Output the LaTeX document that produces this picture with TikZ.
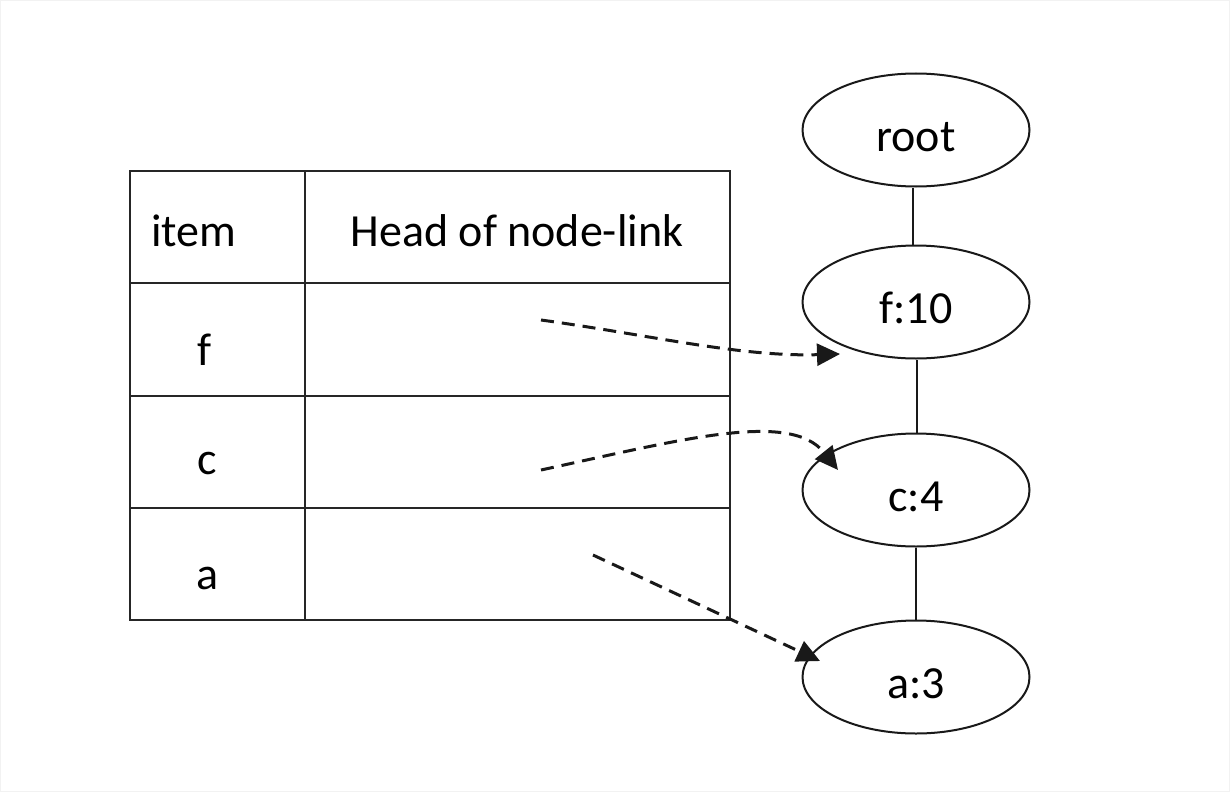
\documentclass[tikz,border=0pt]{standalone}
\usepackage{fontspec}
\setmainfont{Carlito}
\usetikzlibrary{shapes.geometric,arrows.meta}
\begin{document}
\begin{tikzpicture}[x=0.5pt,y=-0.5pt,
  tbl/.style={line width=1.4pt,draw=black!85},
  ell/.style={ellipse,draw=black!90,line width=1pt,minimum width=113.5pt,minimum height=56.5pt,inner sep=0pt,text height=21pt,text depth=0pt,font=\fontsize{23}{27}\selectfont},
  lbl/.style={inner sep=0pt,font=\fontsize{23}{27}\selectfont},
  link/.style={line width=0.85pt,black!90},
  ptr/.style={line width=1.5pt,black!90,dash pattern=on 6.5pt off 4pt,-{Triangle[length=11.5pt,width=11pt]}}]
\useasboundingbox (0,0) rectangle (1230,792);
\draw[black!5,line width=0.5pt] (0.5,0.5) rectangle (1229.5,791.5);
% table
\draw[tbl] (130,171) rectangle (730,620);
\draw[tbl] (305,171) -- (305,620);
\draw[tbl] (130,283) -- (730,283);
\draw[tbl] (130,396) -- (730,396);
\draw[tbl] (130,508) -- (730,508);
\node[lbl] (hitem) at (194,231) {item};
\node[lbl] (hhead) at (517,231) {Head of node-link};
\node[lbl] (tf) at (205,350) {f};
\node[lbl] (tc) at (207,463) {c};
\node[lbl] (ta) at (208,578) {a};
% tree
\node[ell] (root) at (916,130) {root};
\node[ell] (f) at (916,302) {f:10};
\node[ell] (c) at (916,490) {c:4};
\node[ell] (a) at (916,677) {a:3};
\draw[link] ([xshift=-1.5pt]root.south) -- ([xshift=-1.5pt]f.north);
\draw[link] ([xshift=0.5pt]f.south) -- ([xshift=0.5pt]c.north);
\draw[link] (c) -- (a);
% pointers
\coordinate (sf) at (541,320);
\coordinate (ef) at (840,354);
\coordinate (sc) at (541,470);
\coordinate (ec) at (838,470);
\coordinate (sa) at (593,555);
\coordinate (ea) at (820,661);
\draw[ptr] (sf) .. controls (650,335) and (740,357) .. (ef);
\draw[ptr] (sc) .. controls (680,440) and (790,410) .. (ec);
\draw[ptr] (sa) -- (ea);
\end{tikzpicture}
\end{document}
